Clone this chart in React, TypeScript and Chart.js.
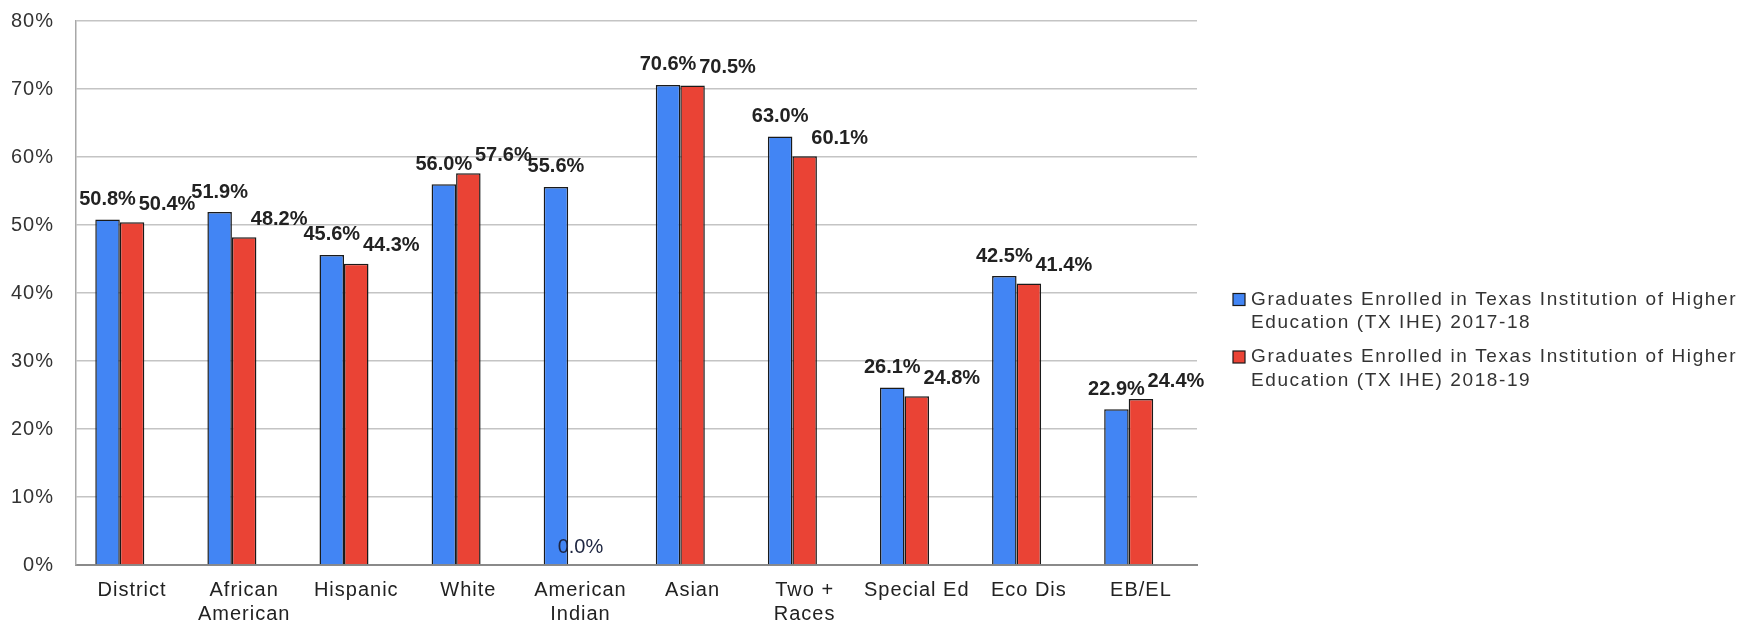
import React, { useEffect, useRef } from 'react';
import { Chart, registerables } from 'chart.js';

Chart.register(...registerables);

const categories: string[][] = [
  ['District'],
  ['African', 'American'],
  ['Hispanic'],
  ['White'],
  ['American', 'Indian'],
  ['Asian'],
  ['Two +', 'Races'],
  ['Special Ed'],
  ['Eco Dis'],
  ['EB/EL'],
];
const enrolled2017_18 = [50.8, 51.9, 45.6, 56.0, 55.6, 70.6, 63.0, 26.1, 42.5, 22.9];
const enrolled2018_19 = [50.4, 48.2, 44.3, 57.6, 0.0, 70.5, 60.1, 24.8, 41.4, 24.4];
const emptySeries: (number | null)[] = [null, null, null, null, null, null, null, null, null, null];
const legendTexts: string[][] = [
  ['Graduates Enrolled in Texas Institution of Higher', 'Education (TX IHE) 2017-18'],
  ['Graduates Enrolled in Texas Institution of Higher', 'Education (TX IHE) 2018-19'],
];
const seriesColors = ['#4285f4', '#ea4335'];
const yMin = 0;
const yMax = 80;
const yStep = 10;

const FONT = '"Liberation Sans", Arial, Helvetica, sans-serif';

const spacingPlugin = {
  id: 'axisSpacing',
  beforeDraw(chart: any) {
    (chart.ctx as any).letterSpacing = '1px';
  },
  beforeDatasetsDraw(chart: any) {
    (chart.ctx as any).letterSpacing = '0px';
  },
};

const barLabelPlugin = {
  id: 'barLabels',
  afterDatasetsDraw(chart: any) {
    const ctx = chart.ctx;
    ctx.save();
    (ctx as any).letterSpacing = '0px';
    [0, 1].forEach((di) => {
      const meta = chart.getDatasetMeta(di);
      meta.data.forEach((bar: any, i: number) => {
        const v = chart.data.datasets[di].data[i];
        if (v == null) return;
        const zero = v === 0;
        ctx.font = (zero ? '' : 'bold ') + '20px ' + FONT;
        ctx.fillStyle = zero ? '#1d2540' : '#222222';
        ctx.textAlign = 'center';
        ctx.textBaseline = 'middle';
        const dx = di === 1 && !zero ? 35 : 0;
        const dy = di === 0 ? -20 : -18;
        ctx.fillText(v.toFixed(1) + '%', bar.x + dx, bar.y + dy);
      });
    });
    ctx.restore();
  },
};

const sideLegendPlugin = {
  id: 'sideLegend',
  afterDraw(chart: any) {
    const ctx = chart.ctx;
    const area = chart.chartArea;
    ctx.save();
    const boxX = area.right + 36;
    const textX = boxX + 18;
    let y = 299.5;
    const lineH = 23.5;
    legendTexts.forEach((lines, idx) => {
      (ctx as any).letterSpacing = '0px';
      ctx.fillStyle = seriesColors[idx];
      ctx.fillRect(boxX, y - 6, 12, 12);
      ctx.strokeStyle = '#1a1a1a';
      ctx.lineWidth = 1.2;
      ctx.strokeRect(boxX, y - 6, 12, 12);
      ctx.font = '19px ' + FONT;
      (ctx as any).letterSpacing = '1.6px';
      ctx.fillStyle = '#333333';
      ctx.textAlign = 'left';
      ctx.textBaseline = 'middle';
      lines.forEach((t, li) => {
        ctx.fillText(t, textX, y + li * lineH);
      });
      y += lines.length * lineH + 10.5;
    });
    ctx.restore();
  },
};

export default function App() {
  const ref = useRef<HTMLCanvasElement | null>(null);
  useEffect(() => {
    document.body.style.margin = '0';
    const canvas = ref.current;
    if (!canvas) return;
    const chart = new Chart(canvas, {
      type: 'bar',
      data: {
        labels: categories,
        datasets: [
          {
            label: legendTexts[0].join(' '),
            data: enrolled2017_18,
            backgroundColor: seriesColors[0],
            borderColor: '#1a1a1a',
            borderWidth: 1.5,
            borderSkipped: 'bottom',
          },
          {
            label: legendTexts[1].join(' '),
            data: enrolled2018_19,
            backgroundColor: seriesColors[1],
            borderColor: '#1a1a1a',
            borderWidth: (c: any) => (c.raw === 0 ? 0 : 1.5),
            borderSkipped: 'bottom',
          },
          {
            label: '',
            data: emptySeries,
            backgroundColor: 'transparent',
          },
        ],
      },
      options: {
        responsive: false,
        animation: false,
        devicePixelRatio: 1,
        layout: { padding: { top: 21, right: 543, left: 0, bottom: 0 } },
        datasets: {
          bar: { categoryPercentage: 0.656, barPercentage: 1 },
        },
        plugins: {
          legend: { display: false },
          tooltip: { enabled: false },
          title: { display: false },
        },
        scales: {
          x: {
            grid: { display: false, drawTicks: false },
            border: { display: true, color: '#8a8a8a', width: 2 },
            ticks: {
              font: { family: FONT, size: 20, lineHeight: 1.2 },
              color: '#222222',
              padding: 13,
              maxRotation: 0,
              autoSkip: false,
            },
            afterFit: (s: any) => {
              s.height = 56;
            },
          },
          y: {
            min: yMin,
            max: yMax,
            ticks: {
              stepSize: yStep,
              font: { family: FONT, size: 20 },
              color: '#333333',
              padding: 22,
              callback: (v: any) => v + '%',
            },
            grid: { color: '#c4c4c4', lineWidth: 1.5, drawTicks: false },
            border: { display: true, color: '#a8a8a8', width: 1.5 },
            afterFit: (s: any) => {
              s.width = 76;
              s.paddingTop = 0;
              s.paddingBottom = 0;
            },
          },
        },
      },
      plugins: [spacingPlugin, barLabelPlugin, sideLegendPlugin],
    });
    return () => chart.destroy();
  }, []);
  return (
    <div style={{ width: 1740, height: 621, background: '#ffffff' }}>
      <canvas ref={ref} width={1740} height={621} style={{ display: 'block' }} />
    </div>
  );
}
